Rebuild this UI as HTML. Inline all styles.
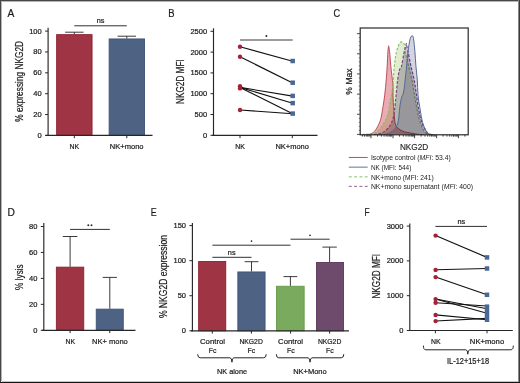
<!DOCTYPE html>
<html><head><meta charset="utf-8"><style>
html,body{margin:0;padding:0;background:#fff;}
body{width:520px;height:383px;overflow:hidden;position:relative;}
svg{position:absolute;left:0;top:0;}
text{font-family:"Liberation Sans", sans-serif;stroke:#1c1c1c;stroke-width:0.22px;}
</style></head><body>
<svg width="520" height="383" viewBox="0 0 520 383">
<rect x="0" y="0" width="520" height="383" fill="#fff"/>
<text x="7.50" y="16.90" font-size="10.8" text-anchor="start" fill="#1c1c1c" textLength="6.80" lengthAdjust="spacingAndGlyphs" >A</text>
<text x="168.30" y="16.90" font-size="10.8" text-anchor="start" fill="#1c1c1c" textLength="6.30" lengthAdjust="spacingAndGlyphs" >B</text>
<text x="333.60" y="16.90" font-size="10.8" text-anchor="start" fill="#1c1c1c" textLength="6.60" lengthAdjust="spacingAndGlyphs" >C</text>
<text x="7.40" y="216.20" font-size="10.8" text-anchor="start" fill="#1c1c1c" textLength="7.40" lengthAdjust="spacingAndGlyphs" >D</text>
<text x="150.80" y="216.20" font-size="10.8" text-anchor="start" fill="#1c1c1c" textLength="5.90" lengthAdjust="spacingAndGlyphs" >E</text>
<text x="364.50" y="216.20" font-size="10.8" text-anchor="start" fill="#1c1c1c" textLength="5.10" lengthAdjust="spacingAndGlyphs" >F</text>
<line x1="48.10" y1="27.80" x2="48.10" y2="135.90" stroke="#262626" stroke-width="1.15" />
<line x1="45.10" y1="135.40" x2="48.10" y2="135.40" stroke="#262626" stroke-width="1.0" />
<text x="41.70" y="137.90" font-size="7.5" text-anchor="end" fill="#1c1c1c" >0</text>
<line x1="45.10" y1="114.54" x2="48.10" y2="114.54" stroke="#262626" stroke-width="1.0" />
<text x="41.70" y="117.04" font-size="7.5" text-anchor="end" fill="#1c1c1c" >20</text>
<line x1="45.10" y1="93.68" x2="48.10" y2="93.68" stroke="#262626" stroke-width="1.0" />
<text x="41.70" y="96.18" font-size="7.5" text-anchor="end" fill="#1c1c1c" >40</text>
<line x1="45.10" y1="72.82" x2="48.10" y2="72.82" stroke="#262626" stroke-width="1.0" />
<text x="41.70" y="75.32" font-size="7.5" text-anchor="end" fill="#1c1c1c" >60</text>
<line x1="45.10" y1="51.96" x2="48.10" y2="51.96" stroke="#262626" stroke-width="1.0" />
<text x="41.70" y="54.46" font-size="7.5" text-anchor="end" fill="#1c1c1c" >80</text>
<line x1="45.10" y1="31.10" x2="48.10" y2="31.10" stroke="#262626" stroke-width="1.0" />
<text x="41.70" y="33.60" font-size="7.5" text-anchor="end" fill="#1c1c1c" >100</text>
<rect x="56.65" y="34.65" width="35.40" height="100.75" fill="#9f3544" stroke="#8c1f30" stroke-width="0.9"/>
<rect x="109.15" y="38.95" width="35.40" height="96.45" fill="#4e6384" stroke="#3c5276" stroke-width="0.9"/>
<line x1="74.30" y1="32.20" x2="74.30" y2="34.20" stroke="#303030" stroke-width="0.95" />
<line x1="65.10" y1="32.20" x2="83.50" y2="32.20" stroke="#303030" stroke-width="0.95" />
<line x1="126.80" y1="36.20" x2="126.80" y2="38.50" stroke="#303030" stroke-width="0.95" />
<line x1="117.60" y1="36.20" x2="136.00" y2="36.20" stroke="#303030" stroke-width="0.95" />
<line x1="45.50" y1="135.40" x2="152.50" y2="135.40" stroke="#262626" stroke-width="1.15" />
<line x1="74.30" y1="135.40" x2="74.30" y2="138.20" stroke="#262626" stroke-width="1.0" />
<line x1="126.80" y1="135.40" x2="126.80" y2="138.20" stroke="#262626" stroke-width="1.0" />
<line x1="74.30" y1="25.80" x2="126.80" y2="25.80" stroke="#303030" stroke-width="1.0" />
<text x="100.50" y="23.00" font-size="7.3" text-anchor="middle" fill="#1c1c1c" >ns</text>
<text x="74.30" y="148.90" font-size="8.0" text-anchor="middle" fill="#1c1c1c" textLength="9.60" lengthAdjust="spacingAndGlyphs" >NK</text>
<text x="126.70" y="148.90" font-size="8.0" text-anchor="middle" fill="#1c1c1c" textLength="33.70" lengthAdjust="spacingAndGlyphs" >NK+mono</text>
<text x="0" y="0" font-size="10.5" text-anchor="middle" fill="#1c1c1c" textLength="80.90" lengthAdjust="spacingAndGlyphs" transform="translate(23.00,81.35) rotate(-90)">% expressing NKG2D</text>
<line x1="213.50" y1="28.30" x2="213.50" y2="135.80" stroke="#262626" stroke-width="1.15" />
<line x1="210.50" y1="135.30" x2="213.50" y2="135.30" stroke="#262626" stroke-width="1.0" />
<text x="207.10" y="137.80" font-size="7.5" text-anchor="end" fill="#1c1c1c" >0</text>
<line x1="210.50" y1="114.50" x2="213.50" y2="114.50" stroke="#262626" stroke-width="1.0" />
<text x="207.10" y="117.00" font-size="7.5" text-anchor="end" fill="#1c1c1c" >500</text>
<line x1="210.50" y1="93.70" x2="213.50" y2="93.70" stroke="#262626" stroke-width="1.0" />
<text x="207.10" y="96.20" font-size="7.5" text-anchor="end" fill="#1c1c1c" >1000</text>
<line x1="210.50" y1="72.90" x2="213.50" y2="72.90" stroke="#262626" stroke-width="1.0" />
<text x="207.10" y="75.40" font-size="7.5" text-anchor="end" fill="#1c1c1c" >1500</text>
<line x1="210.50" y1="52.10" x2="213.50" y2="52.10" stroke="#262626" stroke-width="1.0" />
<text x="207.10" y="54.60" font-size="7.5" text-anchor="end" fill="#1c1c1c" >2000</text>
<line x1="210.50" y1="31.30" x2="213.50" y2="31.30" stroke="#262626" stroke-width="1.0" />
<text x="207.10" y="33.80" font-size="7.5" text-anchor="end" fill="#1c1c1c" >2500</text>
<line x1="212.30" y1="135.30" x2="317.50" y2="135.30" stroke="#262626" stroke-width="1.15" />
<line x1="240.00" y1="135.30" x2="240.00" y2="138.10" stroke="#262626" stroke-width="1.0" />
<line x1="292.30" y1="135.30" x2="292.30" y2="138.10" stroke="#262626" stroke-width="1.0" />
<line x1="240.00" y1="39.90" x2="292.70" y2="39.90" stroke="#3a3a3a" stroke-width="1.05" />
<circle cx="266.35" cy="35.90" r="1.0" fill="#2a2a2a"/>
<line x1="240.00" y1="46.80" x2="292.70" y2="61.20" stroke="#111" stroke-width="1.15" />
<line x1="240.00" y1="56.80" x2="292.70" y2="82.90" stroke="#111" stroke-width="1.15" />
<line x1="240.00" y1="87.40" x2="292.70" y2="96.10" stroke="#111" stroke-width="1.15" />
<line x1="240.00" y1="87.40" x2="292.70" y2="103.30" stroke="#111" stroke-width="1.15" />
<line x1="240.00" y1="87.40" x2="292.70" y2="113.80" stroke="#111" stroke-width="1.15" />
<line x1="240.00" y1="110.00" x2="292.70" y2="113.80" stroke="#111" stroke-width="1.15" />
<circle cx="240.00" cy="46.80" r="2.2" fill="#a52236"/>
<circle cx="240.00" cy="56.80" r="2.2" fill="#a52236"/>
<circle cx="240.00" cy="86.20" r="2.2" fill="#a52236"/>
<circle cx="240.00" cy="88.40" r="2.2" fill="#a52236"/>
<circle cx="240.00" cy="110.00" r="2.2" fill="#a52236"/>
<rect x="290.45" y="58.75" width="4.5" height="4.5" fill="#4a6896"/>
<rect x="290.45" y="80.45" width="4.5" height="4.5" fill="#4a6896"/>
<rect x="290.45" y="93.65" width="4.5" height="4.5" fill="#4a6896"/>
<rect x="290.45" y="100.85" width="4.5" height="4.5" fill="#4a6896"/>
<rect x="290.45" y="111.35" width="4.5" height="4.5" fill="#4a6896"/>
<text x="240.00" y="148.70" font-size="8.0" text-anchor="middle" fill="#1c1c1c" textLength="9.60" lengthAdjust="spacingAndGlyphs" >NK</text>
<text x="292.20" y="148.70" font-size="8.0" text-anchor="middle" fill="#1c1c1c" textLength="33.50" lengthAdjust="spacingAndGlyphs" >NK+mono</text>
<text x="0" y="0" font-size="10.5" text-anchor="middle" fill="#1c1c1c" textLength="44.60" lengthAdjust="spacingAndGlyphs" transform="translate(184.20,81.60) rotate(-90)">NKG2D MFI</text>
<path d="M366.00 134.60 C366.83 134.47 369.40 134.57 371.00 133.80 C372.60 133.03 374.07 132.15 375.60 130.00 C377.13 127.85 379.07 124.18 380.20 120.90 C381.33 117.62 381.65 114.58 382.40 110.30 C383.15 106.02 384.07 100.25 384.70 95.20 C385.33 90.15 385.78 84.88 386.20 80.00 C386.62 75.12 386.92 70.65 387.20 65.90 C387.48 61.15 387.67 54.85 387.90 51.50 C388.13 48.15 388.48 46.75 388.60 45.80 C388.77 46.75 389.23 48.15 389.60 51.50 C389.97 54.85 390.25 60.32 390.80 65.90 C391.35 71.48 392.53 80.12 392.90 85.00 C393.27 89.88 392.85 90.98 393.00 95.20 C393.15 99.42 393.42 105.50 393.80 110.30 C394.18 115.10 394.55 120.97 395.30 124.00 C396.05 127.03 396.85 127.20 398.30 128.50 C399.75 129.80 401.97 131.05 404.00 131.80 C406.03 132.55 408.17 132.58 410.50 133.00 C412.83 133.42 415.75 134.03 418.00 134.30 C420.25 134.57 423.00 134.55 424.00 134.60 Z" fill="#eaacb2" stroke="none" style="mix-blend-mode:multiply"/>
<path d="M366.00 134.60 C366.83 134.47 369.40 134.57 371.00 133.80 C372.60 133.03 374.07 132.15 375.60 130.00 C377.13 127.85 379.07 124.18 380.20 120.90 C381.33 117.62 381.65 114.58 382.40 110.30 C383.15 106.02 384.07 100.25 384.70 95.20 C385.33 90.15 385.78 84.88 386.20 80.00 C386.62 75.12 386.92 70.65 387.20 65.90 C387.48 61.15 387.67 54.85 387.90 51.50 C388.13 48.15 388.48 46.75 388.60 45.80 C388.77 46.75 389.23 48.15 389.60 51.50 C389.97 54.85 390.25 60.32 390.80 65.90 C391.35 71.48 392.53 80.12 392.90 85.00 C393.27 89.88 392.85 90.98 393.00 95.20 C393.15 99.42 393.42 105.50 393.80 110.30 C394.18 115.10 394.55 120.97 395.30 124.00 C396.05 127.03 396.85 127.20 398.30 128.50 C399.75 129.80 401.97 131.05 404.00 131.80 C406.03 132.55 408.17 132.58 410.50 133.00 C412.83 133.42 415.75 134.03 418.00 134.30 C420.25 134.57 423.00 134.55 424.00 134.60" fill="none" stroke="#b8404e" stroke-width="0.9" stroke-linejoin="round"/>
<path d="M362.00 134.60 C362.67 134.50 364.83 134.03 366.00 134.00 C367.17 133.97 368.03 134.37 369.00 134.40 C369.97 134.43 370.45 134.68 371.80 134.20 C373.15 133.72 375.20 133.20 377.10 131.50 C379.00 129.80 381.43 126.78 383.20 124.00 C384.97 121.22 386.57 118.35 387.70 114.80 C388.83 111.25 389.18 107.33 390.00 102.70 C390.82 98.07 391.87 93.13 392.60 87.00 C393.33 80.87 393.75 71.82 394.40 65.90 C395.05 59.98 395.48 55.45 396.50 51.50 C397.52 47.55 399.18 43.38 400.50 42.20 C401.82 41.02 403.63 42.85 404.40 44.40 C405.17 45.95 404.42 47.92 405.10 51.50 C405.78 55.08 407.35 61.15 408.50 65.90 C409.65 70.65 411.17 76.15 412.00 80.00 C412.83 83.85 412.87 85.22 413.50 89.00 C414.13 92.78 414.92 97.88 415.80 102.70 C416.68 107.52 417.67 113.60 418.80 117.90 C419.93 122.20 421.47 125.98 422.60 128.50 C423.73 131.02 424.37 131.98 425.60 133.00 C426.83 134.02 429.27 134.33 430.00 134.60 Z" fill="#e2eccf" stroke="none" style="mix-blend-mode:multiply"/>
<path d="M362.00 134.60 C362.67 134.50 364.83 134.03 366.00 134.00 C367.17 133.97 368.03 134.37 369.00 134.40 C369.97 134.43 370.45 134.68 371.80 134.20 C373.15 133.72 375.20 133.20 377.10 131.50 C379.00 129.80 381.43 126.78 383.20 124.00 C384.97 121.22 386.57 118.35 387.70 114.80 C388.83 111.25 389.18 107.33 390.00 102.70 C390.82 98.07 391.87 93.13 392.60 87.00 C393.33 80.87 393.75 71.82 394.40 65.90 C395.05 59.98 395.48 55.45 396.50 51.50 C397.52 47.55 399.18 43.38 400.50 42.20 C401.82 41.02 403.63 42.85 404.40 44.40 C405.17 45.95 404.42 47.92 405.10 51.50 C405.78 55.08 407.35 61.15 408.50 65.90 C409.65 70.65 411.17 76.15 412.00 80.00 C412.83 83.85 412.87 85.22 413.50 89.00 C414.13 92.78 414.92 97.88 415.80 102.70 C416.68 107.52 417.67 113.60 418.80 117.90 C419.93 122.20 421.47 125.98 422.60 128.50 C423.73 131.02 424.37 131.98 425.60 133.00 C426.83 134.02 429.27 134.33 430.00 134.60" fill="none" stroke="#86bb68" stroke-width="1.1" stroke-dasharray="2.6 1.6" stroke-linejoin="round"/>
<path d="M374.00 134.60 C375.28 134.33 379.42 134.02 381.70 133.00 C383.98 131.98 385.93 130.52 387.70 128.50 C389.47 126.48 391.17 123.93 392.30 120.90 C393.43 117.87 393.87 114.58 394.50 110.30 C395.13 106.02 395.58 100.25 396.10 95.20 C396.62 90.15 397.03 84.20 397.60 80.00 C398.17 75.80 398.83 72.35 399.50 70.00 C400.17 67.65 400.90 68.50 401.60 65.90 C402.30 63.30 402.92 58.12 403.70 54.40 C404.48 50.68 405.87 45.40 406.30 43.60 C406.58 44.92 407.23 47.78 408.00 51.50 C408.77 55.22 409.87 61.15 410.90 65.90 C411.93 70.65 413.27 75.12 414.20 80.00 C415.13 84.88 415.73 90.15 416.50 95.20 C417.27 100.25 417.92 105.77 418.80 110.30 C419.68 114.83 420.67 119.12 421.80 122.40 C422.93 125.68 424.47 128.10 425.60 130.00 C426.73 131.90 427.37 133.03 428.60 133.80 C429.83 134.57 432.27 134.47 433.00 134.60 Z" fill="#cdc6d6" stroke="none" style="mix-blend-mode:multiply"/>
<path d="M374.00 134.60 C375.28 134.33 379.42 134.02 381.70 133.00 C383.98 131.98 385.93 130.52 387.70 128.50 C389.47 126.48 391.17 123.93 392.30 120.90 C393.43 117.87 393.87 114.58 394.50 110.30 C395.13 106.02 395.58 100.25 396.10 95.20 C396.62 90.15 397.03 84.20 397.60 80.00 C398.17 75.80 398.83 72.35 399.50 70.00 C400.17 67.65 400.90 68.50 401.60 65.90 C402.30 63.30 402.92 58.12 403.70 54.40 C404.48 50.68 405.87 45.40 406.30 43.60 C406.58 44.92 407.23 47.78 408.00 51.50 C408.77 55.22 409.87 61.15 410.90 65.90 C411.93 70.65 413.27 75.12 414.20 80.00 C415.13 84.88 415.73 90.15 416.50 95.20 C417.27 100.25 417.92 105.77 418.80 110.30 C419.68 114.83 420.67 119.12 421.80 122.40 C422.93 125.68 424.47 128.10 425.60 130.00 C426.73 131.90 427.37 133.03 428.60 133.80 C429.83 134.57 432.27 134.47 433.00 134.60" fill="none" stroke="#74467c" stroke-width="1.15" stroke-dasharray="2.8 1.6" stroke-linejoin="round"/>
<path d="M378.00 134.60 C378.87 134.58 381.33 134.77 383.20 134.50 C385.07 134.23 387.18 134.00 389.20 133.00 C391.22 132.00 393.78 130.52 395.30 128.50 C396.82 126.48 397.55 124.43 398.30 120.90 C399.05 117.37 399.28 111.08 399.80 107.30 C400.32 103.52 400.77 100.73 401.40 98.20 C402.03 95.67 402.97 95.13 403.60 92.10 C404.23 89.07 404.70 84.37 405.20 80.00 C405.70 75.63 406.13 70.65 406.60 65.90 C407.07 61.15 407.40 56.05 408.00 51.50 C408.60 46.95 409.48 41.27 410.20 38.60 C410.92 35.93 411.95 36.02 412.30 35.50 C412.50 36.02 413.07 35.93 413.50 38.60 C413.93 41.27 414.50 46.95 414.90 51.50 C415.30 56.05 415.50 61.15 415.90 65.90 C416.30 70.65 416.95 75.12 417.30 80.00 C417.65 84.88 417.50 90.15 418.00 95.20 C418.50 100.25 419.53 105.77 420.30 110.30 C421.07 114.83 421.58 118.87 422.60 122.40 C423.62 125.93 425.13 129.48 426.40 131.50 C427.67 133.52 428.93 133.98 430.20 134.50 C431.47 135.02 433.37 134.58 434.00 134.60 Z" fill="#d6d3e3" stroke="none" style="mix-blend-mode:multiply"/>
<path d="M378.00 134.60 C378.87 134.58 381.33 134.77 383.20 134.50 C385.07 134.23 387.18 134.00 389.20 133.00 C391.22 132.00 393.78 130.52 395.30 128.50 C396.82 126.48 397.55 124.43 398.30 120.90 C399.05 117.37 399.28 111.08 399.80 107.30 C400.32 103.52 400.77 100.73 401.40 98.20 C402.03 95.67 402.97 95.13 403.60 92.10 C404.23 89.07 404.70 84.37 405.20 80.00 C405.70 75.63 406.13 70.65 406.60 65.90 C407.07 61.15 407.40 56.05 408.00 51.50 C408.60 46.95 409.48 41.27 410.20 38.60 C410.92 35.93 411.95 36.02 412.30 35.50 C412.50 36.02 413.07 35.93 413.50 38.60 C413.93 41.27 414.50 46.95 414.90 51.50 C415.30 56.05 415.50 61.15 415.90 65.90 C416.30 70.65 416.95 75.12 417.30 80.00 C417.65 84.88 417.50 90.15 418.00 95.20 C418.50 100.25 419.53 105.77 420.30 110.30 C421.07 114.83 421.58 118.87 422.60 122.40 C423.62 125.93 425.13 129.48 426.40 131.50 C427.67 133.52 428.93 133.98 430.20 134.50 C431.47 135.02 433.37 134.58 434.00 134.60" fill="none" stroke="#4c6494" stroke-width="0.95" stroke-linejoin="round"/>
<rect x="360.2" y="28.0" width="108.0" height="106.80000000000001" fill="none" stroke="#2a2a2a" stroke-width="1.2"/>
<line x1="357.0" y1="134.40" x2="360.2" y2="134.40" stroke="#2a2a2a" stroke-width="0.85"/>
<line x1="358.8" y1="130.37" x2="360.2" y2="130.37" stroke="#555" stroke-width="0.85"/>
<line x1="358.8" y1="126.34" x2="360.2" y2="126.34" stroke="#555" stroke-width="0.85"/>
<line x1="358.8" y1="122.31" x2="360.2" y2="122.31" stroke="#555" stroke-width="0.85"/>
<line x1="358.8" y1="118.28" x2="360.2" y2="118.28" stroke="#555" stroke-width="0.85"/>
<line x1="357.0" y1="114.25" x2="360.2" y2="114.25" stroke="#2a2a2a" stroke-width="0.85"/>
<line x1="358.8" y1="110.22" x2="360.2" y2="110.22" stroke="#555" stroke-width="0.85"/>
<line x1="358.8" y1="106.19" x2="360.2" y2="106.19" stroke="#555" stroke-width="0.85"/>
<line x1="358.8" y1="102.16" x2="360.2" y2="102.16" stroke="#555" stroke-width="0.85"/>
<line x1="358.8" y1="98.13" x2="360.2" y2="98.13" stroke="#555" stroke-width="0.85"/>
<line x1="357.0" y1="94.10" x2="360.2" y2="94.10" stroke="#2a2a2a" stroke-width="0.85"/>
<line x1="358.8" y1="90.07" x2="360.2" y2="90.07" stroke="#555" stroke-width="0.85"/>
<line x1="358.8" y1="86.04" x2="360.2" y2="86.04" stroke="#555" stroke-width="0.85"/>
<line x1="358.8" y1="82.01" x2="360.2" y2="82.01" stroke="#555" stroke-width="0.85"/>
<line x1="358.8" y1="77.98" x2="360.2" y2="77.98" stroke="#555" stroke-width="0.85"/>
<line x1="357.0" y1="73.95" x2="360.2" y2="73.95" stroke="#2a2a2a" stroke-width="0.85"/>
<line x1="358.8" y1="69.92" x2="360.2" y2="69.92" stroke="#555" stroke-width="0.85"/>
<line x1="358.8" y1="65.89" x2="360.2" y2="65.89" stroke="#555" stroke-width="0.85"/>
<line x1="358.8" y1="61.86" x2="360.2" y2="61.86" stroke="#555" stroke-width="0.85"/>
<line x1="358.8" y1="57.83" x2="360.2" y2="57.83" stroke="#555" stroke-width="0.85"/>
<line x1="357.0" y1="53.80" x2="360.2" y2="53.80" stroke="#2a2a2a" stroke-width="0.85"/>
<line x1="358.8" y1="49.77" x2="360.2" y2="49.77" stroke="#555" stroke-width="0.85"/>
<line x1="358.8" y1="45.74" x2="360.2" y2="45.74" stroke="#555" stroke-width="0.85"/>
<line x1="358.8" y1="41.71" x2="360.2" y2="41.71" stroke="#555" stroke-width="0.85"/>
<line x1="358.8" y1="37.68" x2="360.2" y2="37.68" stroke="#555" stroke-width="0.85"/>
<line x1="357.0" y1="33.65" x2="360.2" y2="33.65" stroke="#2a2a2a" stroke-width="0.85"/>
<line x1="362.36" y1="134.8" x2="362.36" y2="136.60000000000002" stroke="#2a2a2a" stroke-width="0.9"/>
<line x1="364.47" y1="134.8" x2="364.47" y2="136.60000000000002" stroke="#2a2a2a" stroke-width="0.9"/>
<line x1="366.19" y1="134.8" x2="366.19" y2="136.60000000000002" stroke="#2a2a2a" stroke-width="0.9"/>
<line x1="367.64" y1="134.8" x2="367.64" y2="136.60000000000002" stroke="#2a2a2a" stroke-width="0.9"/>
<line x1="368.90" y1="134.8" x2="368.90" y2="136.60000000000002" stroke="#2a2a2a" stroke-width="0.9"/>
<line x1="370.01" y1="134.8" x2="370.01" y2="136.60000000000002" stroke="#2a2a2a" stroke-width="0.9"/>
<line x1="371.00" y1="134.8" x2="371.00" y2="138.20000000000002" stroke="#2a2a2a" stroke-width="0.9"/>
<line x1="377.53" y1="134.8" x2="377.53" y2="136.60000000000002" stroke="#2a2a2a" stroke-width="0.9"/>
<line x1="381.35" y1="134.8" x2="381.35" y2="136.60000000000002" stroke="#2a2a2a" stroke-width="0.9"/>
<line x1="384.06" y1="134.8" x2="384.06" y2="136.60000000000002" stroke="#2a2a2a" stroke-width="0.9"/>
<line x1="386.17" y1="134.8" x2="386.17" y2="136.60000000000002" stroke="#2a2a2a" stroke-width="0.9"/>
<line x1="387.89" y1="134.8" x2="387.89" y2="136.60000000000002" stroke="#2a2a2a" stroke-width="0.9"/>
<line x1="389.34" y1="134.8" x2="389.34" y2="136.60000000000002" stroke="#2a2a2a" stroke-width="0.9"/>
<line x1="390.60" y1="134.8" x2="390.60" y2="136.60000000000002" stroke="#2a2a2a" stroke-width="0.9"/>
<line x1="391.71" y1="134.8" x2="391.71" y2="136.60000000000002" stroke="#2a2a2a" stroke-width="0.9"/>
<line x1="393.00" y1="134.8" x2="393.00" y2="138.20000000000002" stroke="#2a2a2a" stroke-width="0.9"/>
<line x1="399.53" y1="134.8" x2="399.53" y2="136.60000000000002" stroke="#2a2a2a" stroke-width="0.9"/>
<line x1="403.35" y1="134.8" x2="403.35" y2="136.60000000000002" stroke="#2a2a2a" stroke-width="0.9"/>
<line x1="406.06" y1="134.8" x2="406.06" y2="136.60000000000002" stroke="#2a2a2a" stroke-width="0.9"/>
<line x1="408.17" y1="134.8" x2="408.17" y2="136.60000000000002" stroke="#2a2a2a" stroke-width="0.9"/>
<line x1="409.89" y1="134.8" x2="409.89" y2="136.60000000000002" stroke="#2a2a2a" stroke-width="0.9"/>
<line x1="411.34" y1="134.8" x2="411.34" y2="136.60000000000002" stroke="#2a2a2a" stroke-width="0.9"/>
<line x1="412.60" y1="134.8" x2="412.60" y2="136.60000000000002" stroke="#2a2a2a" stroke-width="0.9"/>
<line x1="413.71" y1="134.8" x2="413.71" y2="136.60000000000002" stroke="#2a2a2a" stroke-width="0.9"/>
<line x1="414.60" y1="134.8" x2="414.60" y2="138.20000000000002" stroke="#2a2a2a" stroke-width="0.9"/>
<line x1="421.13" y1="134.8" x2="421.13" y2="136.60000000000002" stroke="#2a2a2a" stroke-width="0.9"/>
<line x1="424.95" y1="134.8" x2="424.95" y2="136.60000000000002" stroke="#2a2a2a" stroke-width="0.9"/>
<line x1="427.66" y1="134.8" x2="427.66" y2="136.60000000000002" stroke="#2a2a2a" stroke-width="0.9"/>
<line x1="429.77" y1="134.8" x2="429.77" y2="136.60000000000002" stroke="#2a2a2a" stroke-width="0.9"/>
<line x1="431.49" y1="134.8" x2="431.49" y2="136.60000000000002" stroke="#2a2a2a" stroke-width="0.9"/>
<line x1="432.94" y1="134.8" x2="432.94" y2="136.60000000000002" stroke="#2a2a2a" stroke-width="0.9"/>
<line x1="434.20" y1="134.8" x2="434.20" y2="136.60000000000002" stroke="#2a2a2a" stroke-width="0.9"/>
<line x1="435.31" y1="134.8" x2="435.31" y2="136.60000000000002" stroke="#2a2a2a" stroke-width="0.9"/>
<line x1="436.60" y1="134.8" x2="436.60" y2="138.20000000000002" stroke="#2a2a2a" stroke-width="0.9"/>
<line x1="443.13" y1="134.8" x2="443.13" y2="136.60000000000002" stroke="#2a2a2a" stroke-width="0.9"/>
<line x1="446.95" y1="134.8" x2="446.95" y2="136.60000000000002" stroke="#2a2a2a" stroke-width="0.9"/>
<line x1="449.66" y1="134.8" x2="449.66" y2="136.60000000000002" stroke="#2a2a2a" stroke-width="0.9"/>
<line x1="451.77" y1="134.8" x2="451.77" y2="136.60000000000002" stroke="#2a2a2a" stroke-width="0.9"/>
<line x1="453.49" y1="134.8" x2="453.49" y2="136.60000000000002" stroke="#2a2a2a" stroke-width="0.9"/>
<line x1="454.94" y1="134.8" x2="454.94" y2="136.60000000000002" stroke="#2a2a2a" stroke-width="0.9"/>
<line x1="456.20" y1="134.8" x2="456.20" y2="136.60000000000002" stroke="#2a2a2a" stroke-width="0.9"/>
<line x1="457.31" y1="134.8" x2="457.31" y2="136.60000000000002" stroke="#2a2a2a" stroke-width="0.9"/>
<line x1="458.40" y1="134.8" x2="458.40" y2="138.20000000000002" stroke="#2a2a2a" stroke-width="0.9"/>
<line x1="464.93" y1="134.8" x2="464.93" y2="136.60000000000002" stroke="#2a2a2a" stroke-width="0.9"/>
<text x="414.1" y="149.6" font-size="8.6" text-anchor="middle" fill="#232323" style="stroke-width:0.12px" textLength="28.4" lengthAdjust="spacingAndGlyphs">NKG2D</text>
<text x="0" y="0" font-size="8.6" text-anchor="middle" fill="#232323" transform="translate(351.6,81.5) rotate(-90)">% Max</text>
<line x1="348.8" y1="157.45" x2="367.7" y2="157.45" stroke="#c4485e" stroke-width="1.0"/>
<text x="370.9" y="160.2" font-size="7.3" fill="#222" style="stroke:none" textLength="79.9" lengthAdjust="spacingAndGlyphs">Isotype control (<tspan font-style="italic">MFI</tspan>: 53.4)</text>
<line x1="348.8" y1="167.15" x2="367.7" y2="167.15" stroke="#5a76a6" stroke-width="1.0"/>
<text x="370.9" y="169.9" font-size="7.3" fill="#222" style="stroke:none" textLength="40.4" lengthAdjust="spacingAndGlyphs">NK (MFI: 544)</text>
<line x1="348.8" y1="176.85" x2="367.7" y2="176.85" stroke="#8cc070" stroke-width="1.0" stroke-dasharray="3 2.3"/>
<text x="370.9" y="179.6" font-size="7.3" fill="#222" style="stroke:none" textLength="62.9" lengthAdjust="spacingAndGlyphs">NK+mono (MFI: 241)</text>
<line x1="348.8" y1="186.35" x2="367.7" y2="186.35" stroke="#8e6496" stroke-width="1.0" stroke-dasharray="3 2.3"/>
<text x="370.9" y="189.1" font-size="7.3" fill="#222" style="stroke:none" textLength="102.1" lengthAdjust="spacingAndGlyphs">NK+mono supernatant (<tspan font-style="italic">MFI</tspan>: 400)</text>
<line x1="43.80" y1="223.10" x2="43.80" y2="330.80" stroke="#262626" stroke-width="1.15" />
<line x1="40.80" y1="330.30" x2="43.80" y2="330.30" stroke="#262626" stroke-width="1.0" />
<text x="37.40" y="332.80" font-size="7.5" text-anchor="end" fill="#1c1c1c" >0</text>
<line x1="40.80" y1="304.35" x2="43.80" y2="304.35" stroke="#262626" stroke-width="1.0" />
<text x="37.40" y="306.85" font-size="7.5" text-anchor="end" fill="#1c1c1c" >20</text>
<line x1="40.80" y1="278.40" x2="43.80" y2="278.40" stroke="#262626" stroke-width="1.0" />
<text x="37.40" y="280.90" font-size="7.5" text-anchor="end" fill="#1c1c1c" >40</text>
<line x1="40.80" y1="252.45" x2="43.80" y2="252.45" stroke="#262626" stroke-width="1.0" />
<text x="37.40" y="254.95" font-size="7.5" text-anchor="end" fill="#1c1c1c" >60</text>
<line x1="40.80" y1="226.50" x2="43.80" y2="226.50" stroke="#262626" stroke-width="1.0" />
<text x="37.40" y="229.00" font-size="7.5" text-anchor="end" fill="#1c1c1c" >80</text>
<rect x="56.35" y="267.15" width="27.40" height="63.15" fill="#9f3544" stroke="#8c1f30" stroke-width="0.9"/>
<rect x="96.25" y="309.15" width="27.00" height="21.15" fill="#4e6384" stroke="#3c5276" stroke-width="0.9"/>
<line x1="70.10" y1="236.50" x2="70.10" y2="266.70" stroke="#303030" stroke-width="0.95" />
<line x1="62.80" y1="236.50" x2="77.40" y2="236.50" stroke="#303030" stroke-width="0.95" />
<line x1="109.80" y1="277.40" x2="109.80" y2="308.70" stroke="#303030" stroke-width="0.95" />
<line x1="102.70" y1="277.40" x2="116.90" y2="277.40" stroke="#303030" stroke-width="0.95" />
<line x1="42.00" y1="330.30" x2="135.50" y2="330.30" stroke="#262626" stroke-width="1.15" />
<line x1="70.10" y1="330.30" x2="70.10" y2="333.10" stroke="#262626" stroke-width="1.0" />
<line x1="109.80" y1="330.30" x2="109.80" y2="333.10" stroke="#262626" stroke-width="1.0" />
<line x1="70.10" y1="229.40" x2="109.80" y2="229.40" stroke="#303030" stroke-width="1.0" />
<circle cx="88.30" cy="225.30" r="0.95" fill="#2a2a2a"/>
<circle cx="91.50" cy="225.30" r="0.95" fill="#2a2a2a"/>
<text x="70.30" y="343.70" font-size="8.0" text-anchor="middle" fill="#1c1c1c" textLength="9.60" lengthAdjust="spacingAndGlyphs" >NK</text>
<text x="109.90" y="343.70" font-size="8.0" text-anchor="middle" fill="#1c1c1c" textLength="35.80" lengthAdjust="spacingAndGlyphs" >NK+ mono</text>
<text x="0" y="0" font-size="10.5" text-anchor="middle" fill="#1c1c1c" textLength="25.60" lengthAdjust="spacingAndGlyphs" transform="translate(23.00,277.10) rotate(-90)">% lysis</text>
<line x1="192.40" y1="223.00" x2="192.40" y2="331.30" stroke="#262626" stroke-width="1.15" />
<line x1="189.40" y1="330.80" x2="192.40" y2="330.80" stroke="#262626" stroke-width="1.0" />
<text x="186.00" y="333.30" font-size="7.5" text-anchor="end" fill="#1c1c1c" >0</text>
<line x1="189.40" y1="295.73" x2="192.40" y2="295.73" stroke="#262626" stroke-width="1.0" />
<text x="186.00" y="298.23" font-size="7.5" text-anchor="end" fill="#1c1c1c" >50</text>
<line x1="189.40" y1="260.67" x2="192.40" y2="260.67" stroke="#262626" stroke-width="1.0" />
<text x="186.00" y="263.17" font-size="7.5" text-anchor="end" fill="#1c1c1c" >100</text>
<line x1="189.40" y1="225.60" x2="192.40" y2="225.60" stroke="#262626" stroke-width="1.0" />
<text x="186.00" y="228.10" font-size="7.5" text-anchor="end" fill="#1c1c1c" >150</text>
<rect x="198.65" y="261.55" width="27.10" height="69.25" fill="#9f3544" stroke="#8c1f30" stroke-width="0.9"/>
<rect x="237.85" y="271.95" width="27.20" height="58.85" fill="#4e6384" stroke="#3c5276" stroke-width="0.9"/>
<rect x="276.45" y="286.25" width="27.70" height="44.55" fill="#7aaa5e" stroke="#649a48" stroke-width="0.9"/>
<rect x="316.45" y="262.45" width="27.10" height="68.35" fill="#6e4a6c" stroke="#5c3858" stroke-width="0.9"/>
<line x1="251.50" y1="261.70" x2="251.50" y2="271.50" stroke="#303030" stroke-width="0.95" />
<line x1="244.60" y1="261.70" x2="258.40" y2="261.70" stroke="#303030" stroke-width="0.95" />
<line x1="290.40" y1="276.60" x2="290.40" y2="285.80" stroke="#303030" stroke-width="0.95" />
<line x1="283.50" y1="276.60" x2="297.30" y2="276.60" stroke="#303030" stroke-width="0.95" />
<line x1="329.60" y1="247.10" x2="329.60" y2="262.00" stroke="#303030" stroke-width="0.95" />
<line x1="322.40" y1="247.10" x2="336.80" y2="247.10" stroke="#303030" stroke-width="0.95" />
<line x1="191.00" y1="330.80" x2="349.00" y2="330.80" stroke="#262626" stroke-width="1.15" />
<line x1="212.30" y1="330.80" x2="212.30" y2="333.60" stroke="#262626" stroke-width="1.0" />
<line x1="251.40" y1="330.80" x2="251.40" y2="333.60" stroke="#262626" stroke-width="1.0" />
<line x1="290.60" y1="330.80" x2="290.60" y2="333.60" stroke="#262626" stroke-width="1.0" />
<line x1="329.60" y1="330.80" x2="329.60" y2="333.60" stroke="#262626" stroke-width="1.0" />
<line x1="212.40" y1="257.30" x2="251.50" y2="257.30" stroke="#303030" stroke-width="1.0" />
<text x="231.70" y="254.60" font-size="7.3" text-anchor="middle" fill="#1c1c1c" >ns</text>
<line x1="212.40" y1="245.20" x2="290.50" y2="245.20" stroke="#303030" stroke-width="1.0" />
<circle cx="251.50" cy="241.10" r="0.85" fill="#2a2a2a"/>
<line x1="290.50" y1="239.20" x2="329.60" y2="239.20" stroke="#303030" stroke-width="1.0" />
<circle cx="310.00" cy="235.30" r="0.85" fill="#2a2a2a"/>
<text x="212.50" y="343.50" font-size="8.0" text-anchor="middle" fill="#1c1c1c" textLength="25.00" lengthAdjust="spacingAndGlyphs" >Control</text>
<text x="212.70" y="353.40" font-size="8.0" text-anchor="middle" fill="#1c1c1c" textLength="7.70" lengthAdjust="spacingAndGlyphs" >Fc</text>
<text x="251.10" y="343.50" font-size="8.0" text-anchor="middle" fill="#1c1c1c" textLength="23.40" lengthAdjust="spacingAndGlyphs" >NKG2D</text>
<text x="251.30" y="353.40" font-size="8.0" text-anchor="middle" fill="#1c1c1c" textLength="7.70" lengthAdjust="spacingAndGlyphs" >Fc</text>
<text x="290.60" y="343.50" font-size="8.0" text-anchor="middle" fill="#1c1c1c" textLength="25.00" lengthAdjust="spacingAndGlyphs" >Control</text>
<text x="290.80" y="353.40" font-size="8.0" text-anchor="middle" fill="#1c1c1c" textLength="7.70" lengthAdjust="spacingAndGlyphs" >Fc</text>
<text x="329.60" y="343.50" font-size="8.0" text-anchor="middle" fill="#1c1c1c" textLength="23.40" lengthAdjust="spacingAndGlyphs" >NKG2D</text>
<text x="329.80" y="353.40" font-size="8.0" text-anchor="middle" fill="#1c1c1c" textLength="7.70" lengthAdjust="spacingAndGlyphs" >Fc</text>
<path d="M197.7 354.2 Q197.7 357.8 200.2 357.8 L229.95 357.8 Q231.95 357.8 231.95 362.2 Q231.95 357.8 233.95 357.8 L263.7 357.8 Q266.2 357.8 266.2 354.2" fill="none" stroke="#262626" stroke-width="1"/>
<path d="M276.3 354.2 Q276.3 357.8 278.8 357.8 L308.05 357.8 Q310.05 357.8 310.05 362.2 Q310.05 357.8 312.05 357.8 L341.3 357.8 Q343.8 357.8 343.8 354.2" fill="none" stroke="#262626" stroke-width="1"/>
<text x="232.00" y="373.90" font-size="8.0" text-anchor="middle" fill="#1c1c1c" textLength="30.10" lengthAdjust="spacingAndGlyphs" >NK alone</text>
<text x="309.90" y="373.90" font-size="8.0" text-anchor="middle" fill="#1c1c1c" textLength="33.50" lengthAdjust="spacingAndGlyphs" >NK+Mono</text>
<text x="0" y="0" font-size="10.5" text-anchor="middle" fill="#1c1c1c" textLength="83.10" lengthAdjust="spacingAndGlyphs" transform="translate(167.20,276.55) rotate(-90)">% NKG2D expression</text>
<line x1="409.80" y1="223.50" x2="409.80" y2="331.00" stroke="#262626" stroke-width="1.15" />
<line x1="406.80" y1="330.50" x2="409.80" y2="330.50" stroke="#262626" stroke-width="1.0" />
<text x="403.40" y="333.00" font-size="7.5" text-anchor="end" fill="#1c1c1c" >0</text>
<line x1="406.80" y1="295.70" x2="409.80" y2="295.70" stroke="#262626" stroke-width="1.0" />
<text x="403.40" y="298.20" font-size="7.5" text-anchor="end" fill="#1c1c1c" >1000</text>
<line x1="406.80" y1="260.90" x2="409.80" y2="260.90" stroke="#262626" stroke-width="1.0" />
<text x="403.40" y="263.40" font-size="7.5" text-anchor="end" fill="#1c1c1c" >2000</text>
<line x1="406.80" y1="226.10" x2="409.80" y2="226.10" stroke="#262626" stroke-width="1.0" />
<text x="403.40" y="228.60" font-size="7.5" text-anchor="end" fill="#1c1c1c" >3000</text>
<line x1="409.40" y1="330.50" x2="512.80" y2="330.50" stroke="#262626" stroke-width="1.15" />
<line x1="435.40" y1="330.50" x2="435.40" y2="333.30" stroke="#262626" stroke-width="1.0" />
<line x1="487.00" y1="330.50" x2="487.00" y2="333.30" stroke="#262626" stroke-width="1.0" />
<line x1="435.40" y1="226.40" x2="487.00" y2="226.40" stroke="#303030" stroke-width="1.0" />
<text x="461.30" y="223.60" font-size="7.3" text-anchor="middle" fill="#1c1c1c" >ns</text>
<line x1="435.60" y1="235.50" x2="487.00" y2="257.40" stroke="#111" stroke-width="1.15" />
<line x1="435.60" y1="269.80" x2="487.00" y2="268.50" stroke="#111" stroke-width="1.15" />
<line x1="435.60" y1="277.00" x2="487.00" y2="294.80" stroke="#111" stroke-width="1.15" />
<line x1="435.60" y1="299.00" x2="487.00" y2="313.20" stroke="#111" stroke-width="1.15" />
<line x1="435.60" y1="299.00" x2="487.00" y2="308.80" stroke="#111" stroke-width="1.15" />
<line x1="435.60" y1="302.70" x2="487.00" y2="306.00" stroke="#111" stroke-width="1.15" />
<line x1="435.60" y1="314.90" x2="487.00" y2="319.80" stroke="#111" stroke-width="1.15" />
<line x1="435.60" y1="321.00" x2="487.00" y2="318.40" stroke="#111" stroke-width="1.15" />
<circle cx="435.60" cy="235.60" r="2.2" fill="#a52236"/>
<circle cx="435.60" cy="269.90" r="2.2" fill="#a52236"/>
<circle cx="435.60" cy="277.10" r="2.2" fill="#a52236"/>
<circle cx="435.60" cy="299.10" r="2.2" fill="#a52236"/>
<circle cx="435.60" cy="302.80" r="2.2" fill="#a52236"/>
<circle cx="435.60" cy="315.00" r="2.2" fill="#a52236"/>
<circle cx="435.60" cy="321.10" r="2.2" fill="#a52236"/>
<rect x="484.75" y="255.15" width="4.5" height="4.5" fill="#4a6896"/>
<rect x="484.75" y="266.25" width="4.5" height="4.5" fill="#4a6896"/>
<rect x="484.75" y="292.55" width="4.5" height="4.5" fill="#4a6896"/>
<rect x="484.75" y="304.4" width="4.5" height="17.6" fill="#4a6896"/>
<text x="435.90" y="343.80" font-size="8.0" text-anchor="middle" fill="#1c1c1c" textLength="9.60" lengthAdjust="spacingAndGlyphs" >NK</text>
<text x="487.00" y="343.80" font-size="8.0" text-anchor="middle" fill="#1c1c1c" textLength="34.30" lengthAdjust="spacingAndGlyphs" >NK+mono</text>
<path d="M423.4 345.6 Q423.4 349.8 425.9 349.8 L465.8 349.8 Q467.8 349.8 467.8 354.2 Q467.8 349.8 469.8 349.8 L510.8 349.8 Q513.3 349.8 513.3 345.6" fill="none" stroke="#262626" stroke-width="1"/>
<text x="468.00" y="364.40" font-size="8.3" text-anchor="middle" fill="#1c1c1c" textLength="42.00" lengthAdjust="spacingAndGlyphs" >IL-12+15+18</text>
<text x="0" y="0" font-size="10.5" text-anchor="middle" fill="#1c1c1c" textLength="44.60" lengthAdjust="spacingAndGlyphs" transform="translate(379.70,276.30) rotate(-90)">NKG2D MFI</text>
<rect x="0" y="0" width="520" height="1" fill="#474747"/>
<rect x="1" y="1" width="517" height="1" fill="#b5b5b5"/>
<rect x="0" y="0" width="1" height="383" fill="#474747"/>
<rect x="1" y="1" width="1" height="380" fill="#b5b5b5"/>
<rect x="518" y="0" width="1" height="383" fill="#8a8a8a"/>
<rect x="519" y="0" width="1" height="383" fill="#3a3a3a"/>
<rect x="2" y="381" width="516" height="1" fill="#c4c4c4"/>
<rect x="0" y="382" width="520" height="1" fill="#151515"/>
</svg>
</body></html>
